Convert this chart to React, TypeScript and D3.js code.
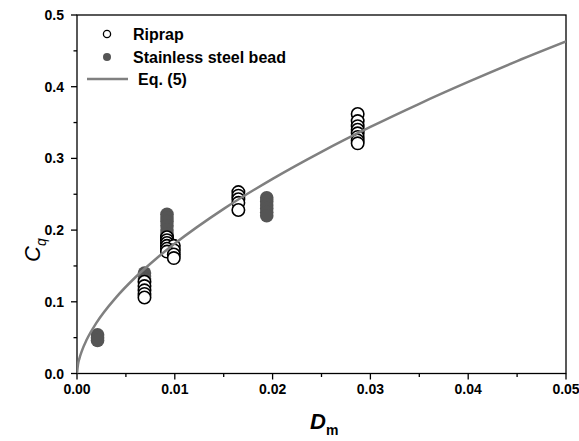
import React from "react";
import * as d3 from "d3";

const riprapD = [0.0069, 0.0069, 0.0069, 0.0069, 0.0069, 0.0092, 0.0092, 0.0092, 0.0092, 0.0092, 0.0092, 0.0099, 0.0099, 0.0099, 0.0099, 0.0165, 0.0165, 0.0165, 0.0165, 0.0165, 0.0287, 0.0287, 0.0287, 0.0287, 0.0287, 0.0287, 0.0287, 0.0287];
const riprapC = [0.128, 0.122, 0.116, 0.111, 0.106, 0.19, 0.186, 0.182, 0.178, 0.174, 0.17, 0.178, 0.172, 0.166, 0.161, 0.253, 0.248, 0.243, 0.238, 0.228, 0.362, 0.352, 0.345, 0.34, 0.335, 0.33, 0.325, 0.321];

const steelD = [0.0021, 0.0021, 0.0021, 0.0069, 0.0069, 0.0069, 0.0092, 0.0092, 0.0092, 0.0092, 0.0092, 0.0092, 0.0092, 0.0092, 0.0092, 0.0194, 0.0194, 0.0194, 0.0194, 0.0194, 0.0194];
const steelC = [0.054, 0.05, 0.046, 0.14, 0.136, 0.132, 0.222, 0.217, 0.212, 0.206, 0.2, 0.195, 0.19, 0.185, 0.18, 0.245, 0.24, 0.235, 0.23, 0.225, 0.22];

const eqD = [0, 0.0001, 0.00025, 0.0005, 0.001, 0.002, 0.004, 0.006, 0.008, 0.01, 0.015, 0.02, 0.025, 0.03, 0.035, 0.04, 0.045, 0.05];
const eqC = [0, 0.0124, 0.0211, 0.0316, 0.0473, 0.0709, 0.1062, 0.1346, 0.1591, 0.1812, 0.2296, 0.2715, 0.3092, 0.3439, 0.3762, 0.4066, 0.4356, 0.463];

const xTicks = [0, 0.01, 0.02, 0.03, 0.04, 0.05];
const xMinor = [0.005, 0.015, 0.025, 0.035, 0.045];
const yTicks = [0, 0.1, 0.2, 0.3, 0.4, 0.5];
const yMinor = [0.05, 0.15, 0.25, 0.35, 0.45];

const legendLabels = ["Riprap", "Stainless steel bead", "Eq. (5)"];

const W = 579, H = 441;
const L = 77, R = 566, T = 15, B = 373.5;
const FONT = "'Liberation Sans', Arial, sans-serif";

export default function App() {
  const x = d3.scaleLinear().domain([0, 0.05]).range([L, R]);
  const y = d3.scaleLinear().domain([0, 0.5]).range([B, T]);

  const line = d3.line<number>()
    .x((_, i) => x(eqD[i]))
    .y((_, i) => y(eqC[i]))
    .curve(d3.curveMonotoneX);

  const order = (D: number[], C: number[]) =>
    D.map((d, i) => ({ d, c: C[i] })).sort((a, b) => b.c - a.c);

  const steel = order(steelD, steelC);
  const rip = order(riprapD, riprapC);

  return (
    <svg width={W} height={H} style={{ position: "absolute", left: 0, top: 0, background: "#fff" }} fontFamily={FONT}>
      <rect x={0} y={0} width={W} height={H} fill="#fff" />
      <defs>
        <clipPath id="clip">
          <rect x={L} y={T} width={R - L} height={B - T} />
        </clipPath>
      </defs>

      {/* frame */}
      <rect x={L} y={T} width={R - L} height={B - T} fill="none" stroke="#000" strokeWidth={1.3} />

      {/* x ticks */}
      {xTicks.map((t) => (
        <g key={"xt" + t}>
          <line x1={x(t)} x2={x(t)} y1={B} y2={B + 6} stroke="#000" strokeWidth={1.3} />
          <text x={x(t)} y={B + 20} textAnchor="middle" fontSize={14} fontWeight="bold">{t.toFixed(2)}</text>
        </g>
      ))}
      {xMinor.map((t) => (
        <line key={"xm" + t} x1={x(t)} x2={x(t)} y1={B} y2={B + 3.5} stroke="#000" strokeWidth={1.3} />
      ))}

      {/* y ticks */}
      {yTicks.map((t) => (
        <g key={"yt" + t}>
          <line x1={L - 6} x2={L} y1={y(t)} y2={y(t)} stroke="#000" strokeWidth={1.3} />
          <text x={L - 13} y={y(t) + 5} textAnchor="end" fontSize={14} fontWeight="bold">{t.toFixed(1)}</text>
        </g>
      ))}
      {yMinor.map((t) => (
        <line key={"ym" + t} x1={L - 3.5} x2={L} y1={y(t)} y2={y(t)} stroke="#000" strokeWidth={1.3} />
      ))}

      {/* axis titles */}
      <text x={310} y={429} fontSize={22} fontWeight="bold" fontStyle="italic">D<tspan fontSize={14} fontStyle="normal" dy={6}>m</tspan></text>
      <g transform="translate(40,262) rotate(-90)">
        <text x={0} y={0} fontSize={22} fontStyle="italic">C<tspan fontSize={14} dy={6}>q</tspan></text>
      </g>

      <g clipPath="url(#clip)">
        {steel.map((p, i) => (
          <circle key={"s" + i} cx={x(p.d)} cy={y(p.c)} r={6.8} fill="#555555" />
        ))}
        {rip.map((p, i) => (
          <circle key={"r" + i} cx={x(p.d)} cy={y(p.c)} r={6.2} fill="#fff" stroke="#000" strokeWidth={1.6} />
        ))}
        <path d={line(eqD) || ""} fill="none" stroke="#808080" strokeWidth={2.5} />
      </g>

      {/* legend */}
      <circle cx={107} cy={34} r={3.6} fill="#fff" stroke="#000" strokeWidth={1.3} />
      <text x={133} y={40} fontSize={16} fontWeight="bold">{legendLabels[0]}</text>
      <circle cx={107} cy={57} r={4} fill="#555555" />
      <text x={133} y={63} fontSize={16} fontWeight="bold">{legendLabels[1]}</text>
      <line x1={87} x2={128} y1={79} y2={79} stroke="#808080" strokeWidth={2.5} />
      <text x={138} y={85} fontSize={16} fontWeight="bold">{legendLabels[2]}</text>
    </svg>
  );
}
